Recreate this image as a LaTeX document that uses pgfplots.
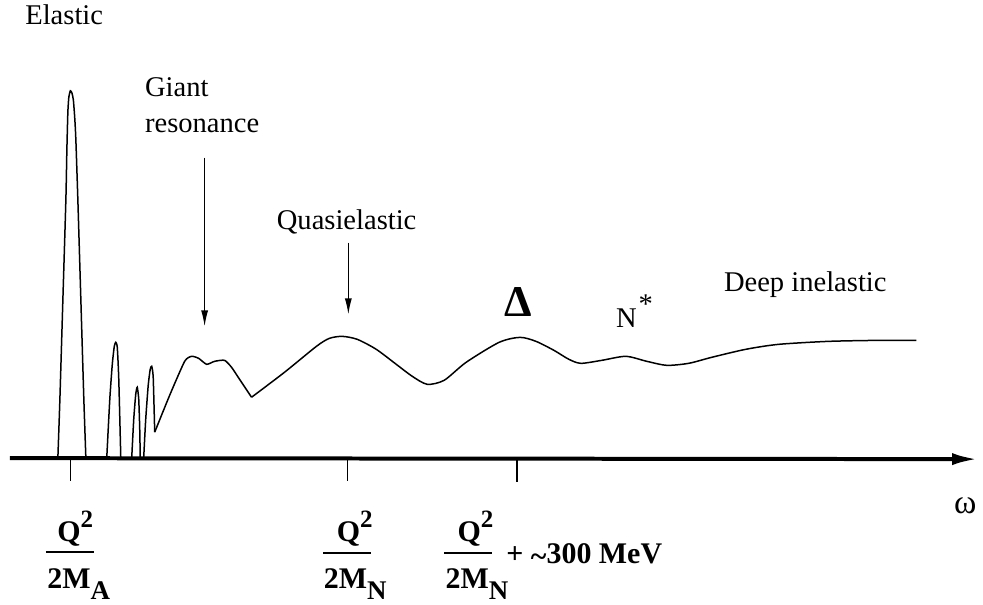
\documentclass[border=0pt]{standalone}
\usepackage{pgfplots}
\pgfplotsset{compat=1.18}
\usepackage{fontspec}
\setmainfont{Liberation Serif}
\usetikzlibrary{arrows.meta}
\newcommand\lbl{\fontsize{14.3}{17}\selectfont}
\newcommand\bq{\fontsize{15}{18}\selectfont\bfseries}
\newcommand\mysup[1]{\raisebox{7.5pt}{\fontsize{12.5}{12.5}\selectfont\bfseries #1}}
\newcommand\mysub[1]{\raisebox{-5.5pt}{\fontsize{13.5}{13.5}\selectfont\bfseries #1}}
\begin{document}
\begin{tikzpicture}
\begin{axis}[scale only axis, width=491.5pt, height=303pt,
  xmin=0, xmax=983, ymin=0, ymax=606, y dir=reverse,
  hide axis, clip=false]
\path (rel axis cs:0,0) rectangle (rel axis cs:1,1);
% response curve (pixel coordinates, y downward)
\addplot[black, line width=0.75pt, smooth, tension=0.35] coordinates {
(58,458) (60,400) (63,300) (66,200) (67,150) (68,112) (69,97) (70.5,91) (72,93) (73.5,100) (75,120) (76,140) (78,200) (81,300) (84,400) (86,458)};
\addplot[black, line width=0.75pt, smooth, tension=0.35] coordinates {
(107,458) (110,400) (112.5,365) (114.5,347) (116,343) (117.5,348) (119,380) (121,458)};
\addplot[black, line width=0.75pt, smooth, tension=0.35] coordinates {
(132,458) (134,420) (136,395) (137.5,388) (139,400) (140,430) (140.5,458)};
\addplot[black, line width=0.75pt, smooth, tension=0.35] coordinates {
(144,458) (146,420) (148.5,386) (150.5,370) (152,367) (153.5,378) (155,433)};
\addplot[black, line width=0.75pt, smooth, tension=0.35] coordinates {
(155,433) (170,396) (185,362) (192,357) (199,359) (207,365) (215,362) (225,361) (232,368) (240,380) (252,398)};
\addplot[black, line width=0.75pt, smooth, tension=0.45] coordinates {
(252,398) (285,373) (317,347) (330,339) (343,337) (358,340) (377,350) (397,365) (413,377) (428,385) (445,381) (467,363) (500,343) (521,338) (537,342) (555,351) (570,360) (582,364) (603,361) (627,357) (648,362) (668,366) (690,364) (713,358) (747,350) (780,345) (830,342) (880,341) (918,341)};
% omega axis
\draw[line width=2pt, -{Latex[length=13pt,width=6pt]}] (axis cs:10,459) -- (axis cs:980,460);
\draw[line width=0.6pt] (axis cs:71,459) -- (axis cs:71,482);
\draw[line width=0.6pt] (axis cs:348,460) -- (axis cs:348,482);
\draw[line width=0.6pt] (axis cs:518,460) -- (axis cs:518,483);
\node[anchor=center] at (axis cs:967,507) {\fontsize{17}{17}\selectfont ω};
% arrows
\draw[line width=0.6pt, -{Latex[length=8pt,width=3.5pt]}] (axis cs:205,158) -- (axis cs:205,327);
\draw[line width=0.6pt, -{Latex[length=8pt,width=3.5pt]}] (axis cs:349,243) -- (axis cs:349,315);
% labels
\node[anchor=base west, inner sep=0] at (axis cs:25,25) {\lbl Elastic};
\node[anchor=base west, inner sep=0] at (axis cs:145,97) {\lbl Giant};
\node[anchor=base west, inner sep=0] at (axis cs:145,133) {\lbl resonance};
\node[anchor=base west, inner sep=0] at (axis cs:277,230) {\lbl Quasielastic};
\node[anchor=base west, inner sep=0] at (axis cs:725,292) {\lbl Deep inelastic};
\node[anchor=base west, inner sep=0] at (axis cs:505,317) {\fontsize{22}{22}\selectfont\bfseries Δ};
\node[anchor=base west, inner sep=0] at (axis cs:617,328) {\lbl N};
\node[anchor=center, inner sep=0] at (axis cs:647,305) {\lbl *};
% fractions
\node[anchor=base west, inner sep=0] at (axis cs:57,543) {\bq Q\mysup{2}};
\draw[line width=0.7pt] (axis cs:46,553) -- (axis cs:94,553);
\node[anchor=base west, inner sep=0] at (axis cs:47,590) {\bq 2M\mysub{A}};
\node[anchor=base west, inner sep=0] at (axis cs:337,543) {\bq Q\mysup{2}};
\draw[line width=0.7pt] (axis cs:324,554) -- (axis cs:372,554);
\node[anchor=base west, inner sep=0] at (axis cs:324,590) {\bq 2M\mysub{N}};
\node[anchor=base west, inner sep=0] at (axis cs:458,543) {\bq Q\mysup{2}};
\draw[line width=0.7pt] (axis cs:445,554) -- (axis cs:493,554);
\node[anchor=base west, inner sep=0] at (axis cs:446,590) {\bq 2M\mysub{N}};
\node[anchor=base west, inner sep=0] at (axis cs:507,565) {\bq + \raisebox{-1.2pt}{\textasciitilde}300 MeV};
\end{axis}
\end{tikzpicture}
\end{document}
